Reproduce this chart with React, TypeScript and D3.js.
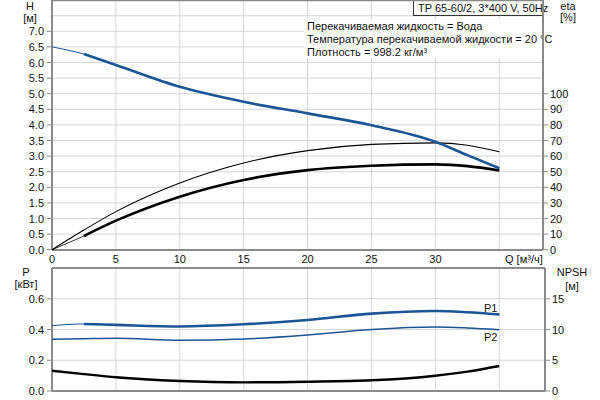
import React from "react";
import * as d3 from "d3";

const qValues = [0, 2.5, 5, 10, 15, 20, 25, 30, 32.5, 35];
const headValues = [6.5, 6.27, 5.92, 5.22, 4.74, 4.37, 3.99, 3.46, 3.03, 2.61];
const etaUpper = [0, 12.6, 24.4, 42.8, 55.6, 63.5, 67.5, 68.5, 67, 62.8];
const etaLower = [0, 8.8, 18.6, 34, 44.7, 51, 53.8, 54.7, 53.6, 50.8];
const p1Values = [0.425, 0.436, 0.43, 0.42, 0.434, 0.462, 0.503, 0.52, 0.512, 0.498];
const p2Values = [0.336, 0.34, 0.343, 0.33, 0.338, 0.364, 0.4, 0.416, 0.41, 0.399];
const npshValues = [3.3, 2.75, 2.23, 1.63, 1.41, 1.51, 1.74, 2.49, 3.15, 4.07];

const qTicks = [0, 5, 10, 15, 20, 25, 30];
const qGrid = [5, 10, 15, 20, 25, 30, 35];
const hTicks = [0, 0.5, 1, 1.5, 2, 2.5, 3, 3.5, 4, 4.5, 5, 5.5, 6, 6.5, 7];
const hGrid = [0.5, 1, 1.5, 2, 2.5, 3, 3.5, 4, 4.5, 5, 5.5, 6, 6.5, 7, 7.5];
const etaTicks = [0, 10, 20, 30, 40, 50, 60, 70, 80, 90, 100];
const pTicks = [0, 0.2, 0.4, 0.6];
const npshTicks = [0, 5, 10, 15];

const title = "TP 65-60/2, 3*400 V, 50Hz";
const infoLines = [
  "Перекачиваемая жидкость = Вода",
  "Температура перекачиваемой жидкости = 20 °C",
  "Плотность = 998.2 кг/м³",
];

const BLUE = "#1b5595";
const AXIS = "#8a8a8a";
const GRID = "#d6d6d6";
const FONT = "'Liberation Sans', Arial, sans-serif";

export default function App() {
  const L = 52, R = 543;
  const x = d3.scaleLinear().domain([0, 38.42]).range([L, R]);
  const yH = d3.scaleLinear().domain([0, 8]).range([249.7, 0.1]);
  const yEta = d3.scaleLinear().domain([0, 160]).range([249.7, 0.1]);
  const yP = d3.scaleLinear().domain([0, 0.8]).range([391, 268]);
  const yN = d3.scaleLinear().domain([0, 20]).range([391, 268]);

  const mk = (ys: number[], ysc: d3.ScaleLinear<number, number>, from = 0) => {
    const pts = qValues.map((q, i) => [q, ys[i]] as [number, number]).filter((p) => p[0] >= from);
    return d3
      .line<[number, number]>()
      .x((d) => x(d[0]))
      .y((d) => ysc(d[1]))
      .curve(d3.curveMonotoneX)(pts) as string;
  };

  const tick = { fontFamily: FONT, fontSize: 11, fill: "#111" } as const;

  return (
    <svg width={600} height={400} style={{ position: "absolute", left: 0, top: 0, background: "#fff" }}>
      {/* top chart grid */}
      {qGrid.map((q) => (
        <line key={"vg" + q} x1={x(q)} x2={x(q)} y1={0} y2={250} stroke={GRID} strokeWidth={1} />
      ))}
      {hGrid.map((h) => (
        <line key={"hg" + h} x1={L} x2={R} y1={yH(h)} y2={yH(h)} stroke={GRID} strokeWidth={1} />
      ))}
      {/* info block */}
      <rect x={304} y={19} width={238} height={39} fill="#fff" />
      {infoLines.map((t, i) => (
        <text key={t} x={307} y={30 + i * 13} {...tick}>
          {t}
        </text>
      ))}
      <rect x={413.5} y={0.5} width={129} height={15} fill="#fff" stroke="#333" strokeWidth={1} />
      <text x={418} y={12} {...tick}>
        {title}
      </text>

      {/* top axes */}
      <line x1={L} x2={R} y1={0.5} y2={0.5} stroke={AXIS} strokeWidth={1.5} />
      <line x1={L} x2={L} y1={0} y2={250} stroke={AXIS} strokeWidth={2} />
      <line x1={R} x2={R} y1={0} y2={250} stroke={AXIS} strokeWidth={2} />
      <line x1={L} x2={R} y1={250} y2={250} stroke={AXIS} strokeWidth={2} />
      {hTicks.map((h) => (
        <g key={"ht" + h}>
          <line x1={L - 5} x2={L} y1={yH(h)} y2={yH(h)} stroke={AXIS} strokeWidth={1} />
          <text x={44} y={yH(h) + 4} textAnchor="end" {...tick}>
            {h.toFixed(1)}
          </text>
        </g>
      ))}
      {etaTicks.map((e) => (
        <g key={"et" + e}>
          <line x1={R} x2={R + 5} y1={yEta(e)} y2={yEta(e)} stroke={AXIS} strokeWidth={1} />
          <text x={550} y={yEta(e) + 4} {...tick}>
            {e}
          </text>
        </g>
      ))}
      {qTicks.map((q) => (
        <text key={"qt" + q} x={x(q)} y={263} textAnchor="middle" {...tick}>
          {q}
        </text>
      ))}
      <text x={505} y={263} {...tick}>
        Q [м³/ч]
      </text>
      <text x={30} y={10} textAnchor="middle" {...tick}>H</text>
      <text x={30} y={22} textAnchor="middle" {...tick}>[м]</text>
      <text x={568} y={10} textAnchor="middle" {...tick}>eta</text>
      <text x={568} y={21} textAnchor="middle" {...tick}>[%]</text>

      {/* top curves */}
      <path d={mk(etaUpper, yEta)} fill="none" stroke="#000" strokeWidth={1.1} />
      <path d={mk(etaLower, yEta)} fill="none" stroke="#000" strokeWidth={0.8} />
      <path d={mk(etaLower, yEta, 2.5)} fill="none" stroke="#000" strokeWidth={2.6} />
      <path d={mk(headValues, yH)} fill="none" stroke={BLUE} strokeWidth={1} />
      <path d={mk(headValues, yH, 2.5)} fill="none" stroke={BLUE} strokeWidth={2.6} />

      {/* bottom chart grid */}
      {qGrid.map((q) => (
        <line key={"bvg" + q} x1={x(q)} x2={x(q)} y1={268} y2={391} stroke={GRID} strokeWidth={1} />
      ))}
      {pTicks.slice(1).map((p) => (
        <line key={"bhg" + p} x1={L} x2={R + 2} y1={yP(p)} y2={yP(p)} stroke={GRID} strokeWidth={1} />
      ))}
      <line x1={L} x2={R + 2} y1={268} y2={268} stroke={AXIS} strokeWidth={2} />
      <line x1={L} x2={L} y1={268} y2={391} stroke={AXIS} strokeWidth={2} />
      <line x1={R + 2} x2={R + 2} y1={268} y2={391} stroke={AXIS} strokeWidth={2} />
      <line x1={L} x2={R + 2} y1={391} y2={391} stroke={AXIS} strokeWidth={2} />
      {pTicks.map((p) => (
        <g key={"pt" + p}>
          <line x1={L - 5} x2={L} y1={yP(p)} y2={yP(p)} stroke={AXIS} strokeWidth={1} />
          <text x={44} y={yP(p) + 4} textAnchor="end" {...tick}>
            {p.toFixed(1)}
          </text>
        </g>
      ))}
      {npshTicks.map((n) => (
        <g key={"nt" + n}>
          <line x1={R + 2} x2={R + 7} y1={yN(n)} y2={yN(n)} stroke={AXIS} strokeWidth={1} />
          <text x={552} y={yN(n) + 4} {...tick}>
            {n}
          </text>
        </g>
      ))}
      <text x={26} y={276} textAnchor="middle" {...tick}>P</text>
      <text x={26} y={288} textAnchor="middle" {...tick}>[кВт]</text>
      <text x={572} y={276} textAnchor="middle" {...tick}>NPSH</text>
      <text x={572} y={290} textAnchor="middle" {...tick}>[м]</text>

      {/* bottom curves */}
      <path d={mk(p1Values, yP)} fill="none" stroke={BLUE} strokeWidth={1} />
      <path d={mk(p1Values, yP, 2.5)} fill="none" stroke={BLUE} strokeWidth={2.6} />
      <path d={mk(p2Values, yP)} fill="none" stroke={BLUE} strokeWidth={1.5} />
      <path d={mk(npshValues, yN)} fill="none" stroke="#000" strokeWidth={2.4} />
      <text x={484} y={312} {...tick}>P1</text>
      <text x={484} y={341} {...tick}>P2</text>
    </svg>
  );
}
